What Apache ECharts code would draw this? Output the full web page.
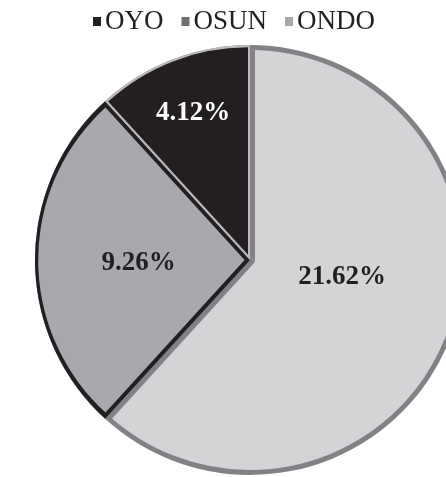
<!DOCTYPE html>
<html>
<head>
<meta charset="utf-8">
<script src="https://cdn.jsdelivr.net/npm/echarts@6/dist/echarts.min.js"></script>
<style>
html,body{margin:0;padding:0;background:#fff;}
#chart{width:446px;height:477px;}
</style>
</head>
<body>
<div id="chart"></div>
<script>
// ---- data ----
const categories = ['ONDO', 'OSUN', 'OYO'];
const values = [21.62, 9.26, 4.12];
const legendOrder = ['OYO', 'OSUN', 'ONDO'];

// ---- styles ----
const fillColors = ['#d3d4d6', '#a7a9ac', '#231f20'];
const edgeColors = ['#808285', '#231f20', '#b9babc'];
const edgeWidths = [5, 4, 2];
const legendColors = ['#231f20', '#6d6e71', '#a7a9ac'];
const labelColors = ['#231f20', '#231f20', '#ffffff'];
const labelOffsets = [[-11, -23], [-1, 3], [-17, -44]];

const CX = 250, CY = 260, R = 215;
const FONT = '"Liberation Serif", "Times New Roman", serif';

const total = values.reduce((a, b) => a + b, 0);
const angles = [];
let cum = 0;
values.forEach(v => {
  const start = 90 - 360 * cum / total;
  const sweep = 360 * v / total;
  angles.push({ start, sweep, mid: start - sweep / 2 });
  cum += v;
});
const rad = d => d * Math.PI / 180;
function shifted(midDeg, d) {
  return [CX + d * Math.cos(rad(midDeg)), CY - d * Math.sin(rad(midDeg))];
}
const HIDE = { color: 'rgba(0,0,0,0)', borderWidth: 0 };

function pieLayer(center, radius, colorFn, z) {
  return {
    type: 'pie',
    center: center,
    radius: radius,
    startAngle: 90,
    clockwise: true,
    silent: true,
    z: z,
    avoidLabelOverlap: false,
    emphasis: { disabled: true },
    label: { show: false },
    labelLine: { show: false },
    data: categories.map((name, i) => {
      const c = colorFn(i);
      return {
        name: name,
        value: values[i],
        itemStyle: c ? { color: c, borderWidth: 0 } : HIDE
      };
    })
  };
}

// combined wedge of the two smaller slices (OSUN + OYO), dilated by ONDO edge width
const restStart = angles[1].start;
const restSweep = angles[1].sweep + angles[2].sweep;
const restMid = restStart - restSweep / 2;
const dilateD = edgeWidths[0] / Math.sin(rad(restSweep / 2));

const dOsun = edgeWidths[1] / Math.sin(rad(angles[1].sweep / 2));
const dOyo = edgeWidths[2] / Math.sin(rad(angles[2].sweep / 2));

const series = [
  pieLayer([CX, CY], R, i => edgeColors[0], 1),
  pieLayer([CX, CY], R - edgeWidths[0], i => fillColors[0], 2),
  pieLayer(shifted(restMid + 180, dilateD), R + 1, i => (i === 0 ? null : edgeColors[0]), 3),
  pieLayer([CX, CY], R, i => (i === 0 ? null : edgeColors[i]), 4),
  pieLayer(shifted(angles[1].mid, dOsun), R - edgeWidths[1] - dOsun + 0.8, i => (i === 1 ? fillColors[1] : null), 5),
  pieLayer(shifted(angles[2].mid, dOyo), R - edgeWidths[2] - dOyo, i => (i === 2 ? fillColors[2] : null), 6),
  {
    type: 'pie',
    center: [CX, CY],
    radius: R,
    startAngle: 90,
    clockwise: true,
    silent: true,
    z: 7,
    avoidLabelOverlap: false,
    emphasis: { disabled: true },
    labelLine: { show: false },
    data: categories.map((name, i) => ({
      name: name,
      value: values[i],
      itemStyle: HIDE,
      label: {
        show: true,
        position: 'inside',
        formatter: '{c}%',
        color: labelColors[i],
        fontFamily: FONT,
        fontWeight: 'bold',
        fontSize: 27,
        offset: labelOffsets[i]
      }
    }))
  }
];

const chart = echarts.init(document.getElementById('chart'), null, { renderer: 'canvas' });
chart.setOption({
  backgroundColor: '#ffffff',
  animation: false,
  legend: {
    left: 88,
    top: 3,
    orient: 'horizontal',
    itemWidth: 8,
    itemHeight: 9,
    itemGap: 18,
    selectedMode: false,
    icon: 'rect',
    textStyle: { fontFamily: FONT, fontSize: 27, color: '#231f20', padding: [0, 0, 0, -1] },
    data: legendOrder.map((n, i) => ({ name: n, itemStyle: { color: legendColors[i], borderWidth: 0 } }))
  },
  series: series
});
</script>
</body>
</html>
